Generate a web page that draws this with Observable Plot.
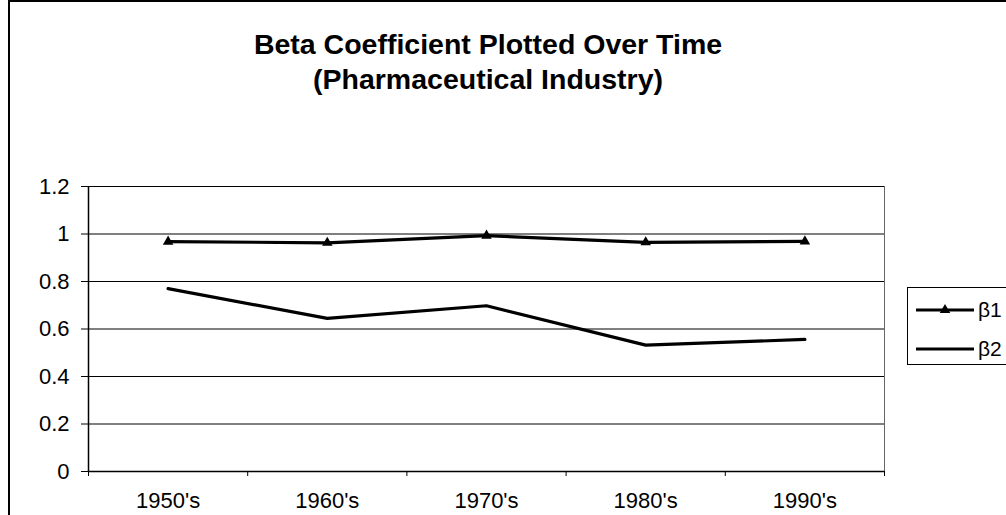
<!DOCTYPE html>
<html>
<head>
<meta charset="utf-8">
<script src="https://cdn.jsdelivr.net/npm/d3@7"></script>
<script src="https://cdn.jsdelivr.net/npm/@observablehq/plot@0.6"></script>
<style>
  html, body { margin: 0; padding: 0; background: #fff; }
  #wrap { position: relative; width: 1006px; height: 515px; overflow: hidden; font-family: "Liberation Sans", Arial, sans-serif; }
  #frame { position: absolute; left: 8px; top: 0px; width: 1100px; height: 600px; border: 2px solid #000; box-sizing: border-box; }
  #title { position: absolute; left: 8px; width: 960px; top: 27px; text-align: center; font-weight: bold; font-size: 28.5px; line-height: 35px; color: #000; }
  #chart { position: absolute; left: 0; top: 0; }
  #legend { position: absolute; left: 907px; top: 287px; width: 120px; height: 78px; border: 1px solid #000; box-sizing: border-box; background: #fff; }
  .item { position: absolute; left: 8px; height: 22px; display: flex; align-items: center; font-size: 21px; }
  .item svg { margin-right: 4px; }
</style>
</head>
<body>
<div id="wrap">
  <div id="frame"></div>
  <div id="chart"></div>
  <div id="title">Beta Coefficient Plotted Over Time<br>(Pharmaceutical Industry)</div>
  <div id="legend"></div>
</div>
<script>
const categories = ["1950's", "1960's", "1970's", "1980's", "1990's"];
const beta1 = [0.968, 0.963, 0.993, 0.965, 0.969];
const beta2 = [0.770, 0.645, 0.698, 0.532, 0.556];
const seriesNames = ["β1", "β2"];
const yTicks = [0, 0.2, 0.4, 0.6, 0.8, 1, 1.2];

const data = [];
categories.forEach((c, i) => {
  data.push({series: seriesNames[0], i, value: beta1[i]});
  data.push({series: seriesNames[1], i, value: beta2[i]});
});
const idx = categories.map((c, i) => i);
const bounds = [...idx.map(i => i - 0.5), categories.length - 0.5];

const chart = Plot.plot({
  width: 1006,
  height: 515,
  marginLeft: 88,
  marginRight: 122,
  marginTop: 186,
  marginBottom: 44,
  style: {fontFamily: "'Liberation Sans', Arial, sans-serif", fontSize: "22px", background: "transparent", color: "#000"},
  x: {type: "linear", domain: [-0.5, categories.length - 0.5], axis: null, label: null},
  y: {domain: [0, 1.2], axis: null, label: null},
  marks: [
    Plot.gridY(yTicks, {stroke: "#000", strokeOpacity: 1, strokeWidth: 1}),
    Plot.ruleX([categories.length - 0.5], {stroke: "#000", strokeWidth: 1, strokeOpacity: 0.6}),
    Plot.axisY(yTicks, {tickSize: 7, tickPadding: 12, tickFormat: d => String(d), stroke: "#000", fontSize: 22, label: null}),
    Plot.axisX(bounds, {tickSize: 5, tickFormat: () => "", stroke: "#000", label: null}),
    Plot.axisX(idx, {tickSize: 0, tickPadding: 21, tickFormat: i => categories[i], fontSize: 22, label: null}),
    Plot.ruleX([-0.5], {stroke: "#000", strokeWidth: 1.5}),
    Plot.ruleY([0], {stroke: "#000", strokeWidth: 1.5}),
    Plot.line(data, {x: "i", y: "value", z: "series", stroke: "#000", strokeWidth: 3.2, strokeLinejoin: "miter"}),
    Plot.dot(data.filter(d => d.series === seriesNames[0]), {x: "i", y: "value", symbol: "triangle", r: 3.9, fill: "#000", stroke: "none"})
  ]
});
document.getElementById("chart").appendChild(chart);

// legend
const legend = document.getElementById("legend");
seriesNames.forEach((name, k) => {
  const item = document.createElement("div");
  item.className = "item";
  item.style.top = (k === 0 ? 11 : 50) + "px";
  const ns = "http://www.w3.org/2000/svg";
  const sw = document.createElementNS(ns, "svg");
  sw.setAttribute("width", 58); sw.setAttribute("height", 20);
  const ln = document.createElementNS(ns, "line");
  ln.setAttribute("x1", 0); ln.setAttribute("x2", 58); ln.setAttribute("y1", 10); ln.setAttribute("y2", 10);
  ln.setAttribute("stroke", "#000"); ln.setAttribute("stroke-width", 3.2);
  sw.appendChild(ln);
  if (k === 0) {
    const tri = document.createElementNS(ns, "path");
    tri.setAttribute("d", d3.symbol(d3.symbolTriangle, Math.PI * 3.9 * 3.9)());
    tri.setAttribute("transform", "translate(29,10)");
    tri.setAttribute("fill", "#000");
    sw.appendChild(tri);
  }
  item.appendChild(sw);
  const t = document.createElement("span");
  t.textContent = name;
  item.appendChild(t);
  legend.appendChild(item);
});
</script>
</body>
</html>
